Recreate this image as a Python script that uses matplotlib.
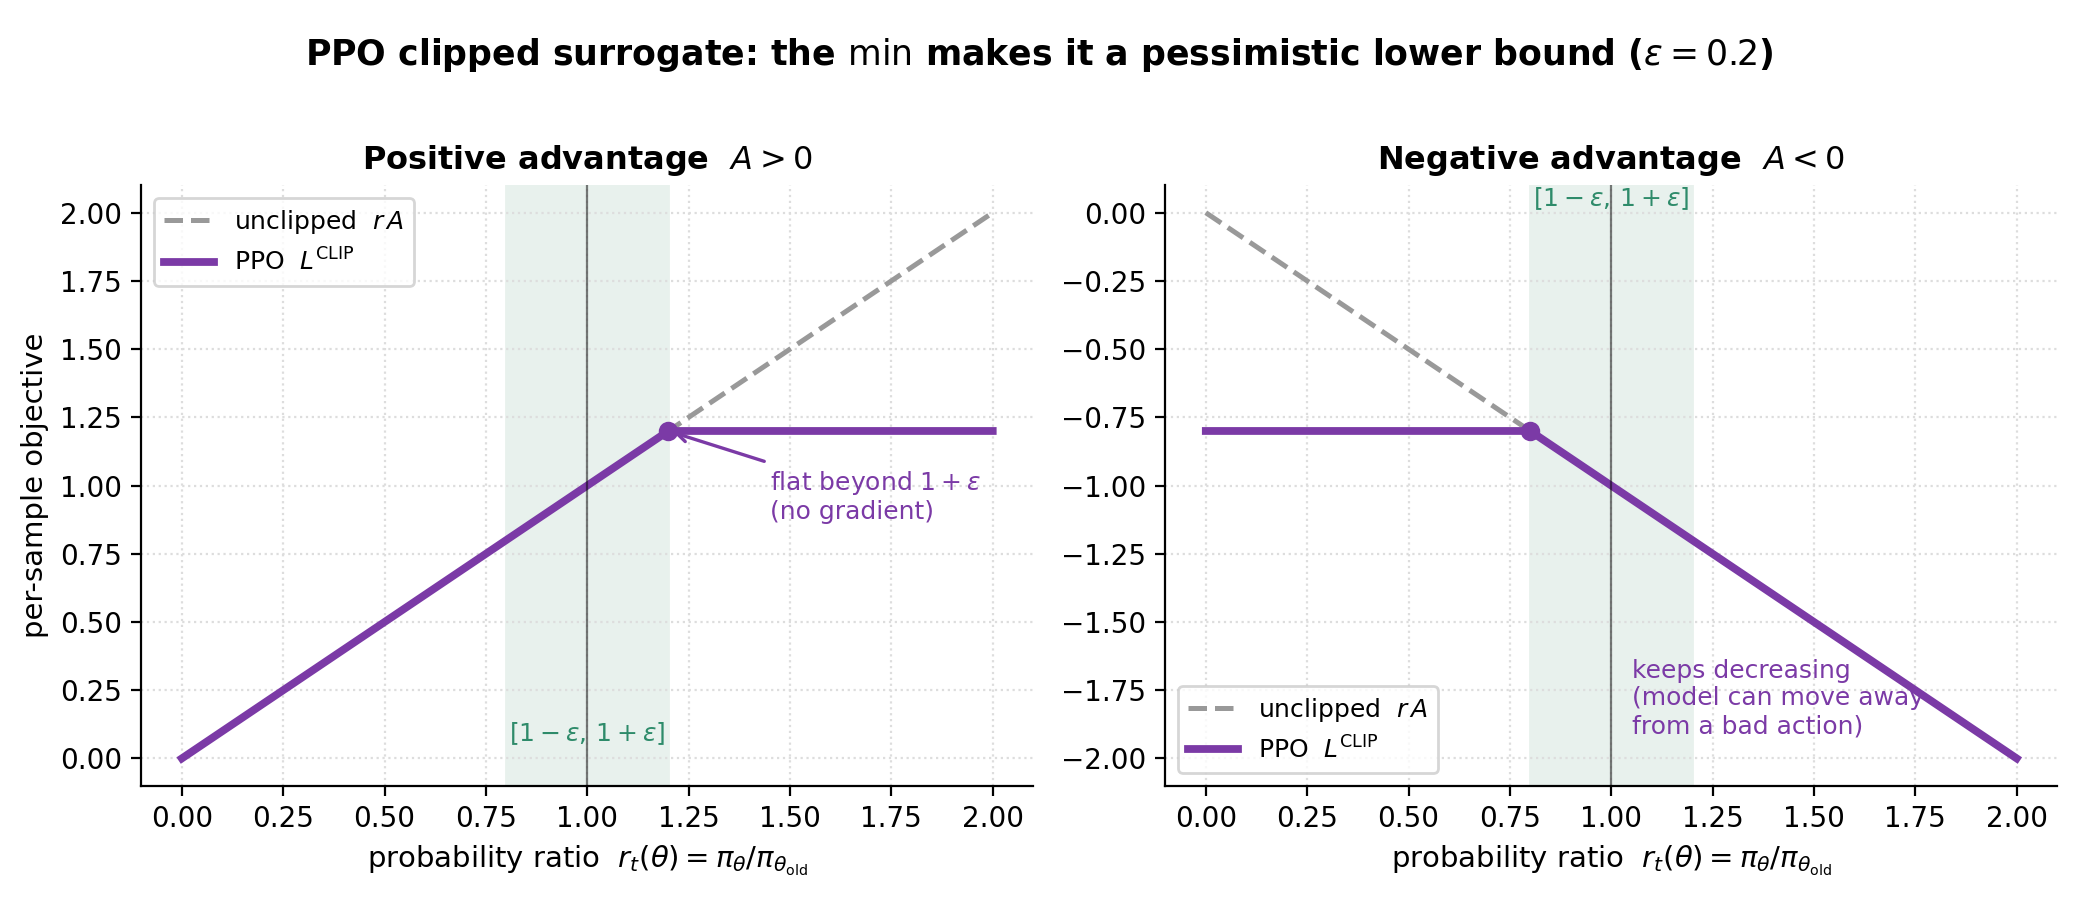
import numpy as np
import matplotlib
matplotlib.use("Agg")
import matplotlib.pyplot as plt

eps = 0.2
r = np.linspace(0, 2, 401)
advantages = [1.0, -1.0]
titles = ["Positive advantage  $A > 0$", "Negative advantage  $A < 0$"]
legend_locs = ["upper left", "lower left"]

purple = "#7b3aa6"
gray = "#999999"
green = "#2e8b6a"
band = "#e8f1ed"

fig, axes = plt.subplots(1, 2, figsize=(10.39, 4.5), dpi=200)
fig.subplots_adjust(left=0.068, right=0.99, top=0.794, bottom=0.127, wspace=0.148)

for ax, A, title, loc in zip(axes, advantages, titles, legend_locs):
    unclipped = r * A
    clipped = np.clip(r, 1 - eps, 1 + eps) * A
    lclip = np.minimum(unclipped, clipped)

    ax.axvspan(1 - eps, 1 + eps, color=band, zorder=0)
    ax.plot(r, unclipped, "--", color=gray, lw=1.8, label="unclipped  $r\\,A$", zorder=2)
    ax.plot(r, lclip, "-", color=purple, lw=2.8, label="PPO  $L^{\\mathrm{CLIP}}$", zorder=3)
    ax.axvline(1.0, color="black", alpha=0.5, lw=0.8, zorder=5)

    kink = 1 + eps if A > 0 else 1 - eps
    ax.plot([kink], [kink * A], "o", color=purple, ms=6, zorder=4)

    ax.set_xlim(-0.1, 2.1)
    ax.set_xticks(np.arange(0, 2.01, 0.25))
    ax.set_title(title, fontsize=11.5, fontweight="bold")
    ax.set_xlabel("probability ratio  $r_t(\\theta) = \\pi_\\theta / \\pi_{\\theta_{\\mathrm{old}}}$", fontsize=10.5)
    ax.grid(True, ls=":", color="#dddddd", lw=0.8)
    ax.set_axisbelow(True)
    ax.spines["top"].set_visible(False)
    ax.spines["right"].set_visible(False)
    ax.legend(loc=loc, fontsize=9)

ax1, ax2 = axes
ax1.set_ylim(-0.1, 2.1)
ax1.set_yticks(np.arange(0, 2.01, 0.25))
ax1.set_ylabel("per-sample objective", fontsize=10.5)
ax1.text(1.0, 0.09, "$[1-\\varepsilon,\\, 1+\\varepsilon]$", color=green, fontsize=9,
         ha="center", va="center")
ax1.annotate("flat beyond $1+\\varepsilon$\n(no gradient)", xy=(1 + eps, 1 + eps),
             xytext=(1.45, 0.96), color=purple, fontsize=9, va="center",
             arrowprops=dict(arrowstyle="->", color=purple, lw=1.2))

ax2.set_ylim(-2.1, 0.1)
ax2.set_yticks(np.arange(-2, 0.01, 0.25))
ax2.text(1.0, 0.05, "$[1-\\varepsilon,\\, 1+\\varepsilon]$", color=green, fontsize=9,
         ha="center", va="center")
ax2.text(1.05, -1.78, "keeps decreasing\n(model can move away\nfrom a bad action)",
         color=purple, fontsize=9, va="center")

fig.suptitle("PPO clipped surrogate: the $\\min$ makes it a pessimistic lower bound ($\\varepsilon = 0.2$)",
             fontsize=12.5, fontweight="bold", y=0.96)

fig.savefig("out.png", dpi=200)
